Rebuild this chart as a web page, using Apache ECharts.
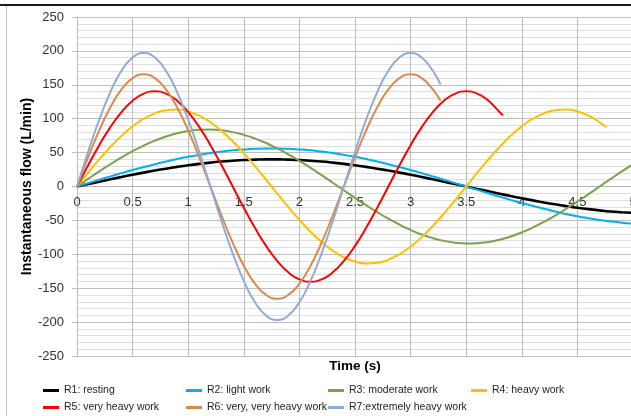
<!DOCTYPE html>
<html>
<head>
<meta charset="utf-8">
<script src="https://cdn.jsdelivr.net/npm/echarts@6/dist/echarts.min.js"></script>
<style>html,body{margin:0;padding:0;background:#fff}#c{width:631px;height:416px}</style>
</head>
<body>
<div id="c"></div>
<script>
// Time axis samples (s)
const time = [0,0.1,0.2,0.3,0.4,0.5,0.6,0.7,0.8,0.9,1.0,1.1,1.2,1.3,1.4,1.5,1.6,1.7,1.8,1.9,2.0,2.1,2.2,2.3,2.4,2.5,2.6,2.7,2.8,2.9,3.0,3.1,3.2,3.3,3.4,3.5,3.6,3.7,3.8,3.9,4.0,4.1,4.2,4.3,4.4,4.5,4.6,4.7,4.8,4.9,5.0];
const xTicks = [0,0.5,1,1.5,2,2.5,3,3.5,4,4.5,5];
const yTicks = [-250,-200,-150,-100,-50,0,50,100,150,200,250];

const seriesNames = ['R1: resting','R2: light work','R3: moderate work','R4: heavy work','R5: very heavy work','R6: very, very heavy work','R7:extremely heavy work'];

// Instantaneous flow (L/min)
const r1 = [0,3.6,7.1,10.6,14.1,17.4,20.5,23.5,26.3,28.9,31.3,33.4,35.2,36.8,38.0,39.0,39.6,40.0,40.0,39.6,39.0,38.0,36.8,35.2,33.4,31.3,28.9,26.3,23.5,20.5,17.4,14.1,10.6,7.1,3.6,0,-3.6,-7.1,-10.6,-14.1,-17.4,-20.5,-23.5,-26.3,-28.9,-31.3,-33.4,-35.2,-36.8,-38.0,-39.0];
const r2 = [0,5.0,10.0,14.9,19.7,24.3,28.7,32.9,36.8,40.5,43.8,46.7,49.3,51.5,53.3,54.6,55.5,55.9,55.9,55.5,54.6,53.3,51.5,49.3,46.7,43.8,40.5,36.8,32.9,28.7,24.3,19.7,14.9,10.0,5.0,0,-5.0,-10.0,-14.9,-19.7,-24.3,-28.7,-32.9,-36.8,-40.5,-43.8,-46.7,-49.3,-51.5,-53.3,-54.6];
const r3 = [0,11.2,22.2,32.8,42.8,52.1,60.4,67.6,73.7,78.4,81.7,83.6,84.0,82.8,80.2,76.2,70.8,64.2,56.2,47.5,37.9,27.6,16.8,5.6,-5.6,-16.7,-27.6,-37.9,-47.5,-56.2,-64.1,-70.8,-76.2,-80.2,-82.8,-84.0,-83.6,-81.7,-78.4,-73.7,-67.7,-60.4,-52.1,-42.8,-32.8,-22.2,-11.2,0,11.2,22.2,32.8];
const r4 = [0,20.3,39.9,58.2,74.7,88.7,100.0,107.9,112.5,113.4,110.7,104.4,94.7,82.0,66.7,49.2,30.2,10.2,-10.2,-30.2,-49.2,-66.7,-82.0,-94.7,-104.4,-110.7,-113.4,-112.5,-107.9,-100.0,-88.7,-74.7,-58.2,-39.9,-20.3,0,20.3,39.9,58.2,74.7,88.7,100.0,107.9,112.5,113.4,110.7,104.4,94.7];
const r4End = [4.76, 87.5];
const r5 = [0,31.3,61.0,87.6,109.8,126.6,137.0,140.5,137.0,126.6,109.8,87.6,61.0,31.3,0,-31.3,-61.0,-87.6,-109.8,-126.6,-137.0,-140.5,-137.0,-126.6,-109.8,-87.6,-61.0,-31.3,0,31.3,61.0,87.6,109.8,126.6,137.0,140.5,137.0,126.6,109.8];
const r5End = [3.83, 105];
const r6 = [0,42.8,82.8,117.0,143.3,159.9,165.5,159.9,143.3,117.0,82.8,42.8,0,-42.8,-82.8,-117.0,-143.3,-159.9,-165.5,-159.9,-143.3,-117.0,-82.8,-42.8,0,42.8,82.8,117.0,143.3,159.9,165.5,159.9,143.3];
const r6End = [3.27, 126.5];
const r7 = [0,51.0,98.5,139.3,170.6,190.3,197.0,190.3,170.6,139.3,98.5,51.0,0,-51.0,-98.5,-139.3,-170.6,-190.3,-197.0,-190.3,-170.6,-139.3,-98.5,-51.0,0,51.0,98.5,139.3,170.6,190.3,197.0,190.3,170.6];
const r7End = [3.27, 150.5];

const colors = ['#000000','#00b0f0','#79a24a','#ffc000','#ff0000','#dc8a4c','#91aad6'];
const values = [r1,r2,r3,r4,r5,r6,r7];
const ends = [null,null,null,r4End,r5End,r6End,r7End];

function pts(vals, end){
  const d = vals.map((v,i)=>[time[i], v]);
  if (end) d.push(end);
  return d;
}

const FONT = '"Liberation Sans", Arial, sans-serif';
const legendPos = [[43,385],[186,385],[328,385],[471,385],[43,402],[186,402],[328,402]];

const chart = echarts.init(document.getElementById('c'), null, {renderer:'canvas'});
chart.setOption({
  backgroundColor:'#ffffff',
  animation:false,
  textStyle:{fontFamily:FONT},
  grid:{left:77, right:-2, top:17, bottom:60, containLabel:false, outerBoundsMode:'none'},
  xAxis:{
    type:'value', min:xTicks[0], max:xTicks[xTicks.length-1], interval:0.5,
    position:'bottom', offset:-169.5,
    name:'Time (s)', nameLocation:'middle', nameGap:173, nameMoveOverlap:false,
    nameTextStyle:{fontFamily:FONT, fontSize:13.5, fontWeight:'bold', color:'#000'},
    axisLine:{onZero:false, lineStyle:{color:'#b3b3b3', width:1}},
    axisTick:{show:false},
    axisLabel:{fontFamily:FONT, fontSize:13, color:'#333', margin:9, showMaxLabel:true, showMinLabel:true},
    splitLine:{show:true, lineStyle:{color:'#bdbdbd', width:1}}
  },
  yAxis:{
    type:'value', min:yTicks[0], max:yTicks[yTicks.length-1], interval:50,
    name:'Instantaneous flow (L/min)', nameLocation:'middle', nameGap:43, nameRotate:90, nameMoveOverlap:false,
    nameTextStyle:{fontFamily:FONT, fontSize:14, fontWeight:'bold', color:'#000'},
    axisLine:{show:true, onZero:false, lineStyle:{color:'#bdbdbd'}},
    axisTick:{show:true, length:5, lineStyle:{color:'#bdbdbd'}},
    axisLabel:{fontFamily:FONT, fontSize:13, color:'#333', margin:13},
    splitLine:{show:true, lineStyle:{color:'#bdbdbd', width:1}},
    minorTick:{show:false, splitNumber:5},
    minorSplitLine:{show:true, lineStyle:{color:'#dedede', width:1}}
  },
  legend: seriesNames.map((n,i)=>({
    data:[n], left:legendPos[i][0], top:legendPos[i][1], padding:0,
    icon:'rect', itemWidth:16, itemHeight:3,
    textStyle:{fontFamily:FONT, fontSize:10.5, color:'#222'}
  })),
  series: seriesNames.map((n,i)=>({
    name:n, type:'line', data:pts(values[i], ends[i]), smooth:true,
    symbol:'none', showSymbol:false,
    lineStyle:{color:colors[i], width: i===0 ? 2.6 : 2},
    itemStyle:{color:colors[i]}
  })),
  graphic:[
    {type:'line', shape:{x1:0,y1:5,x2:631,y2:5}, style:{stroke:'#1a1a1a', lineWidth:2}, silent:true},
    {type:'line', shape:{x1:6.5,y1:6,x2:6.5,y2:416}, style:{stroke:'#c4c4c4', lineWidth:1}, silent:true}
  ]
});
</script>
</body>
</html>
